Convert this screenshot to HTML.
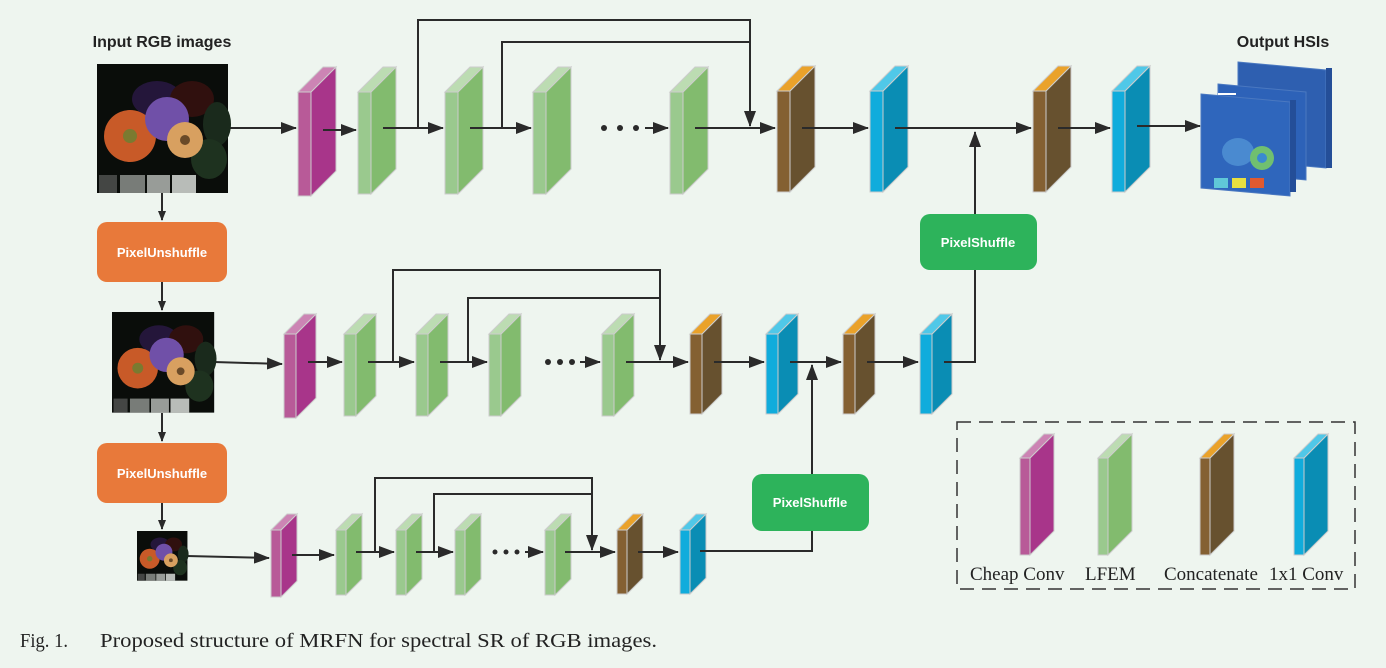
<!DOCTYPE html>
<html><head><meta charset="utf-8"><style>
html,body{margin:0;padding:0;background:#eef5ef;}
svg{display:block}
</style></head><body>
<svg id="s" width="1386" height="668" viewBox="0 0 1386 668" xmlns="http://www.w3.org/2000/svg">
<defs>
<marker id="a" markerWidth="10" markerHeight="8" refX="9" refY="4" orient="auto" markerUnits="userSpaceOnUse">
<path d="M0,0 L10,4 L0,8 z" fill="#2a2a2a"/></marker>
<marker id="a2" markerWidth="16" markerHeight="12" refX="15" refY="6" orient="auto" markerUnits="userSpaceOnUse">
<path d="M0,0 L16,6 L0,12 z" fill="#2a2a2a"/></marker>
<g id="img">
<rect x="0" y="0" width="131" height="129" fill="#0a0d0a"/>
<ellipse cx="60" cy="35" rx="25" ry="18" fill="#24163a"/>
<ellipse cx="95" cy="35" rx="22" ry="18" fill="#30100e"/>
<ellipse cx="120" cy="60" rx="14" ry="22" fill="#1a2a1c"/>
<ellipse cx="112" cy="95" rx="18" ry="20" fill="#1e321f"/>
<circle cx="33" cy="72" r="26" fill="#c85a28"/>
<circle cx="33" cy="72" r="7" fill="#7a7a30"/>
<circle cx="70" cy="55" r="22" fill="#7050a8"/>
<circle cx="88" cy="76" r="18" fill="#d8a060"/>
<circle cx="88" cy="76" r="5" fill="#6a4a28"/>
<rect x="2" y="111" width="18" height="18" fill="#444644"/>
<rect x="23" y="111" width="25" height="18" fill="#787c78"/>
<rect x="50" y="111" width="23" height="18" fill="#989c98"/>
<rect x="75" y="111" width="24" height="18" fill="#b8bcb8"/>
</g>
</defs>
<g id="blocks"></g>
<g stroke="#2a2a2a" stroke-width="2" fill="none">
<line x1="228" y1="128" x2="296" y2="128" marker-end="url(#a2)"/>
<line x1="323" y1="130" x2="356" y2="130" marker-end="url(#a2)"/>
<line x1="383" y1="128" x2="443" y2="128" marker-end="url(#a2)"/>
<line x1="470" y1="128" x2="531" y2="128" marker-end="url(#a2)"/>
<line x1="645" y1="128" x2="668" y2="128" marker-end="url(#a2)"/>
<line x1="695" y1="128" x2="775" y2="128" marker-end="url(#a2)"/>
<polyline points="418,128 418,20 750,20 750,126" marker-end="url(#a2)"/>
<polyline points="502,128 502,42 750,42"/>
<line x1="802" y1="128" x2="868" y2="128" marker-end="url(#a2)"/>
<line x1="895" y1="128" x2="1031" y2="128" marker-end="url(#a2)"/>
<line x1="1058" y1="128" x2="1110" y2="128" marker-end="url(#a2)"/>
<line x1="1137" y1="126" x2="1200" y2="126" marker-end="url(#a2)"/>
<line x1="975" y1="214" x2="975" y2="132" marker-end="url(#a2)"/>
<line x1="162" y1="193" x2="162" y2="220" marker-end="url(#a)"/>
<line x1="162" y1="282" x2="162" y2="310" marker-end="url(#a)"/>
<line x1="162" y1="413" x2="162" y2="441" marker-end="url(#a)"/>
<line x1="162" y1="503" x2="162" y2="529" marker-end="url(#a)"/>
<line x1="214" y1="362" x2="282" y2="364" marker-end="url(#a2)"/>
<line x1="308" y1="362" x2="342" y2="362" marker-end="url(#a2)"/>
<line x1="368" y1="362" x2="414" y2="362" marker-end="url(#a2)"/>
<line x1="440" y1="362" x2="487" y2="362" marker-end="url(#a2)"/>
<line x1="580" y1="362" x2="600" y2="362" marker-end="url(#a2)"/>
<line x1="626" y1="362" x2="688" y2="362" marker-end="url(#a2)"/>
<polyline points="393,362 393,270 660,270 660,360" marker-end="url(#a2)"/>
<polyline points="468,362 468,298 660,298"/>
<line x1="714" y1="362" x2="764" y2="362" marker-end="url(#a2)"/>
<line x1="790" y1="362" x2="841" y2="362" marker-end="url(#a2)"/>
<line x1="867" y1="362" x2="918" y2="362" marker-end="url(#a2)"/>
<polyline points="944,362 975,362 975,270"/>
<line x1="812" y1="474" x2="812" y2="365" marker-end="url(#a2)"/>
<line x1="187" y1="556" x2="269" y2="558" marker-end="url(#a2)"/>
<line x1="292" y1="555" x2="334" y2="555" marker-end="url(#a2)"/>
<line x1="356" y1="552" x2="394" y2="552" marker-end="url(#a2)"/>
<line x1="416" y1="552" x2="453" y2="552" marker-end="url(#a2)"/>
<line x1="525" y1="552" x2="543" y2="552" marker-end="url(#a2)"/>
<line x1="565" y1="552" x2="615" y2="552" marker-end="url(#a2)"/>
<polyline points="375,552 375,478 592,478 592,550" marker-end="url(#a2)"/>
<polyline points="434,552 434,494 592,494"/>
<line x1="638" y1="552" x2="678" y2="552" marker-end="url(#a2)"/>
<polyline points="700,551 812,551 812,531"/>
</g>
<g fill="#2a2a2a">
<circle cx="604" cy="128" r="3"/><circle cx="620" cy="128" r="3"/><circle cx="636" cy="128" r="3"/>
<circle cx="548" cy="362" r="3"/><circle cx="560" cy="362" r="3"/><circle cx="572" cy="362" r="3"/>
<circle cx="495" cy="552" r="2.5"/><circle cx="506" cy="552" r="2.5"/><circle cx="517" cy="552" r="2.5"/>
</g>
<use href="#img" transform="translate(97,64)"/>
<use href="#img" transform="translate(112,312) scale(0.78)"/>
<use href="#img" transform="translate(137,531) scale(0.385)"/>
<rect x="97" y="222" width="130" height="60" rx="10" fill="#e8793a"/>
<rect x="97" y="443" width="130" height="60" rx="10" fill="#e8793a"/>
<rect x="920" y="214" width="117" height="56" rx="10" fill="#2db35b"/>
<rect x="752" y="474" width="117" height="57" rx="10" fill="#2db35b"/>
<g font-family="Liberation Sans, sans-serif" font-weight="bold" fill="#fff" font-size="13" text-anchor="middle">
<text x="162" y="257">PixelUnshuffle</text>
<text x="162" y="478">PixelUnshuffle</text>
<text x="978" y="247">PixelShuffle</text>
<text x="810" y="507">PixelShuffle</text>
</g>
<g font-family="Liberation Sans, sans-serif" font-weight="bold" fill="#222" font-size="16" text-anchor="middle">
<text x="162" y="47">Input RGB images</text>
<text x="1283" y="47">Output HSIs</text>
</g>
<g>
<polygon points="1238,62 1326,70 1326,168 1238,160" fill="#2e5fb0" stroke="#4a78c0"/>
<rect x="1326" y="68" width="6" height="100" fill="#244e98"/>
<polygon points="1218,84 1306,92 1306,180 1218,172" fill="#2d62b8" stroke="#4a78c0"/>
<polygon points="1201,94 1290,102 1290,196 1201,188" fill="#2f66bc" stroke="#4a78c0"/>
<rect x="1290" y="100" width="6" height="92" fill="#244e98"/>
<rect x="1218" y="93" width="18" height="2" fill="#fff"/>
<ellipse cx="1238" cy="152" rx="16" ry="14" fill="#4a8ad0"/>
<ellipse cx="1262" cy="158" rx="12" ry="12" fill="#70c070"/>
<circle cx="1262" cy="158" r="5" fill="#3a8ad0"/>
<rect x="1214" y="178" width="14" height="10" fill="#60c8d8"/>
<rect x="1232" y="178" width="14" height="10" fill="#e8e040"/>
<rect x="1250" y="178" width="14" height="10" fill="#e05a30"/>
</g>
<rect x="957" y="422" width="398" height="167" fill="none" stroke="#333" stroke-width="1.5" stroke-dasharray="14,8"/>
<g font-family="Liberation Serif, serif" font-size="19" fill="#222">
<text x="970" y="580">Cheap Conv</text>
<text x="1085" y="580">LFEM</text>
<text x="1164" y="580">Concatenate</text>
<text x="1269" y="580">1x1 Conv</text>
</g>
<g font-family="Liberation Serif, serif" font-size="20" fill="#222">
<text x="20" y="647" textLength="48" lengthAdjust="spacingAndGlyphs">Fig. 1.</text>
<text x="100" y="647" textLength="557" lengthAdjust="spacingAndGlyphs">Proposed structure of MRFN for spectral SR of RGB images.</text>
</g>
</svg>
<script>
var C={m:["#b85a98","#a8358a","#cc84b4"],g:["#9ac98e","#82bb6e","#bcdcb2"],b:["#846032","#67512f","#eaa22a"],c:["#10acdc","#0a8db4","#50c8e8"]};
var B=[
["m",298,92,13,104,25],["g",358,92,13,102,25],["g",445,92,13,102,25],["g",533,92,13,102,25],["g",670,92,13,102,25],
["b",777,91,13,101,25],["c",870,91,13,101,25],["b",1033,91,13,101,25],["c",1112,91,13,101,25],
["m",284,334,12,84,20],["g",344,334,12,82,20],["g",416,334,12,82,20],["g",489,334,12,82,20],["g",602,334,12,82,20],
["b",690,334,12,80,20],["c",766,334,12,80,20],["b",843,334,12,80,20],["c",920,334,12,80,20],
["m",271,530,10,67,16],["g",336,530,10,65,16],["g",396,530,10,65,16],["g",455,530,10,65,16],["g",545,530,10,65,16],
["b",617,530,10,64,16],["c",680,530,10,64,16],
["m",1020,458,10,97,24],["g",1098,458,10,97,24],["b",1200,458,10,97,24],["c",1294,458,10,97,24]];
var h="";B.forEach(function(b){var c=C[b[0]],x=b[1],y=b[2],w=b[3],H=b[4],d=b[5];
h+='<rect x="'+x+'" y="'+y+'" width="'+w+'" height="'+H+'" fill="'+c[0]+'" stroke="#ccc" stroke-width="1"/>';
h+='<polygon points="'+(x+w)+','+y+' '+(x+w+d)+','+(y-d)+' '+(x+w+d)+','+(y+H-d)+' '+(x+w)+','+(y+H)+'" fill="'+c[1]+'" stroke="#ccc" stroke-width="1"/>';
h+='<polygon points="'+x+','+y+' '+(x+d)+','+(y-d)+' '+(x+w+d)+','+(y-d)+' '+(x+w)+','+y+'" fill="'+c[2]+'" stroke="#ccc" stroke-width="1"/>';});
document.getElementById("blocks").innerHTML=h;
</script>
</body></html>
